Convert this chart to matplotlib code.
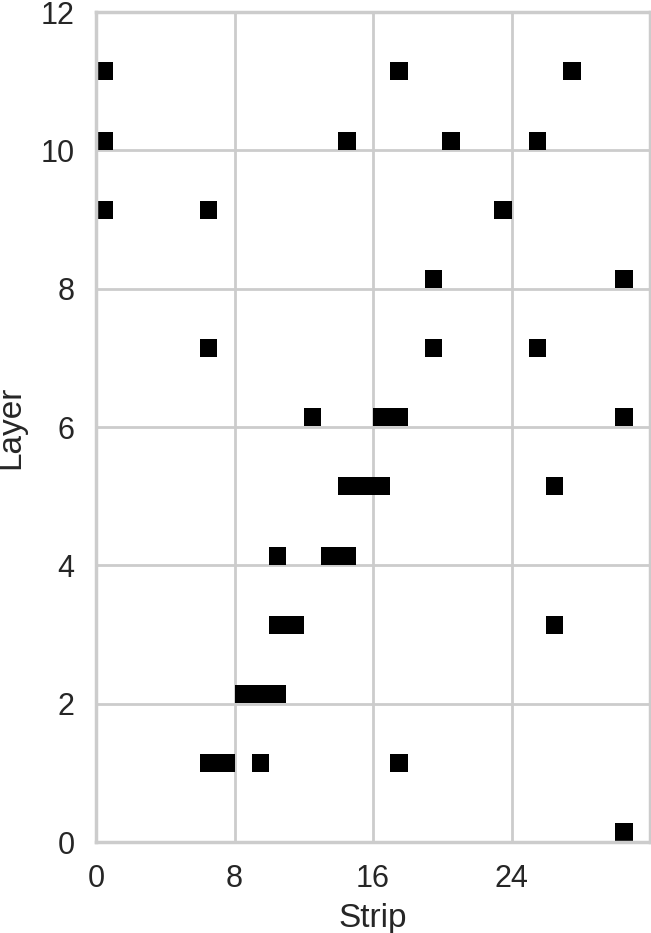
import matplotlib
matplotlib.use("Agg")
import matplotlib.pyplot as plt
import seaborn as sns

# hit data: (strip, layer)
layers = [11, 11, 11,
          10, 10, 10, 10,
          9, 9, 9,
          8, 8,
          7, 7, 7,
          6, 6, 6, 6,
          5, 5, 5, 5,
          4, 4, 4,
          3, 3, 3,
          2, 2, 2,
          1, 1, 1, 1,
          0]
strips = [0, 17, 27,
          0, 14, 20, 25,
          0, 6, 23,
          19, 30,
          6, 19, 25,
          12, 16, 17, 30,
          14, 15, 16, 26,
          10, 13, 14,
          10, 11, 26,
          8, 9, 10,
          6, 7, 9, 17,
          30]
x_ticks = [0, 8, 16, 24]
y_ticks = [0, 2, 4, 6, 8, 10, 12]

sns.set_theme(style="whitegrid", context="poster")
plt.rcParams['font.family'] = ['Liberation Sans', 'DejaVu Sans']

fig = plt.figure(figsize=(6.51, 9.33), dpi=100)
ax = fig.add_axes([96/651, (933-842)/933, (650-96)/651, (842-12)/933])

ax.bar(strips, 0.26, width=1.0, bottom=[l + 0.01 for l in layers],
       align='edge', color='black', linewidth=0)

ax.set_xlim(0, 32)
ax.set_ylim(0, 12)
ax.set_xticks(x_ticks)
ax.set_yticks(y_ticks)
ax.set_xlabel("Strip", labelpad=7)
ax.set_ylabel("Layer", labelpad=10)

fig.savefig("out.png", dpi=100)
